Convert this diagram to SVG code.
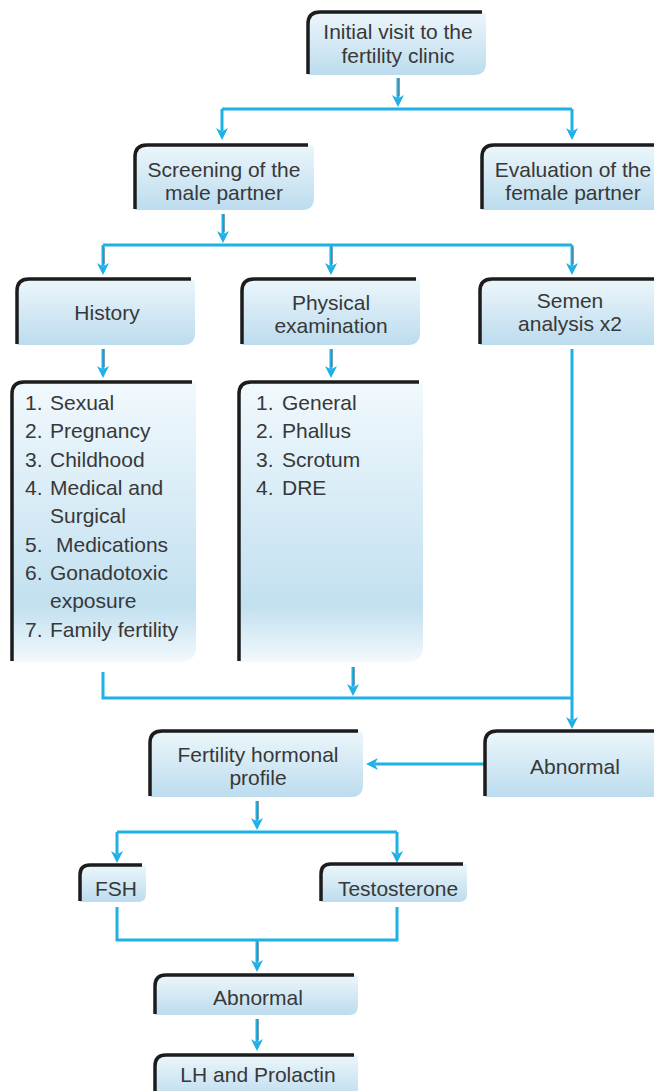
<svg xmlns="http://www.w3.org/2000/svg" width="654" height="1091" viewBox="0 0 654 1091">
<defs>
<linearGradient id="gNode" x1="0" y1="0" x2="0" y2="1">
<stop offset="0" stop-color="#ecf6fb"/>
<stop offset="1" stop-color="#bcdcee"/>
</linearGradient>
<linearGradient id="gList" x1="0" y1="0" x2="0" y2="1">
<stop offset="0" stop-color="#f1f9fd"/>
<stop offset="0.8" stop-color="#c2e0f0"/>
<stop offset="1" stop-color="#f2f9fc"/>
</linearGradient>
<marker id="ah" markerUnits="userSpaceOnUse" markerWidth="12" markerHeight="12" viewBox="0 0 12 12" refX="3" refY="6" orient="auto">
<path d="M0,0 L12,6 L0,12 L3.5,6 Z" fill="#1eb0e6"/>
</marker>
<style>
.fill{fill:url(#gNode);}
.lfill{fill:url(#gList);}
.edge{fill:none;stroke:#1c1c1c;stroke-width:3.5;}
.t{font-family:"Liberation Sans",Arial,sans-serif;font-size:21px;fill:#383838;text-anchor:middle;}
.l{font-family:"Liberation Sans",Arial,sans-serif;font-size:21px;fill:#383838;}
.c{fill:none;stroke:#1eb0e6;stroke-width:3;}
.a{fill:none;stroke:#1eb0e6;stroke-width:3;marker-end:url(#ah);}
.core{fill:none;stroke:#6a6a6a;stroke-width:1;}
</style>
</defs>
<rect width="654" height="1091" fill="#ffffff"/>

<g id="connectors">
<line class="a" x1="398" y1="78" x2="398" y2="98"/>
<path class="c" d="M222,109 H572"/>
<line class="a" x1="222" y1="109" x2="222" y2="131"/>
<line class="a" x1="572" y1="109" x2="572" y2="131"/>
<line class="a" x1="223" y1="214" x2="223" y2="234"/>
<path class="c" d="M103,245 H572"/>
<line class="a" x1="103" y1="245" x2="103" y2="266"/>
<line class="a" x1="331" y1="245" x2="331" y2="266"/>
<line class="a" x1="572" y1="245" x2="572" y2="266"/>
<line class="a" x1="103" y1="349" x2="103" y2="369"/>
<line class="a" x1="331" y1="349" x2="331" y2="369"/>
<line class="a" x1="572" y1="349" x2="572" y2="720"/>
<path class="c" d="M103,672 V698 H572"/>
<line class="a" x1="353" y1="667" x2="353" y2="687"/>
<line class="a" x1="485" y1="764" x2="375" y2="764"/>
<line class="a" x1="257" y1="801" x2="257" y2="821"/>
<path class="c" d="M117,832 H397"/>
<line class="a" x1="117" y1="832" x2="117" y2="854"/>
<line class="a" x1="397" y1="832" x2="397" y2="854"/>
<path class="c" d="M117,907 V940 H397 V907"/>
<line class="a" x1="257" y1="940" x2="257" y2="963"/>
<line class="a" x1="257" y1="1019" x2="257" y2="1042"/>
<line class="core" x1="399" y1="78" x2="399" y2="96"/>
<line class="core" x1="224" y1="214" x2="224" y2="232"/>
<line class="core" x1="104" y1="247" x2="104" y2="264"/>
<line class="core" x1="332" y1="247" x2="332" y2="264"/>
<line class="core" x1="573" y1="247" x2="573" y2="264"/>
<line class="core" x1="104" y1="349" x2="104" y2="367"/>
<line class="core" x1="332" y1="349" x2="332" y2="367"/>
<line class="core" x1="354" y1="667" x2="354" y2="685"/>
<line class="core" x1="258" y1="801" x2="258" y2="819"/>
<line class="core" x1="258" y1="942" x2="258" y2="961"/>
<line class="core" x1="258" y1="1019" x2="258" y2="1040"/>
</g>

<g id="initial-visit">
<path class="fill" d="M308,24 Q308,12 320,12 H482 Q486,12 486,16 V63 Q486,75 474,75 H308 Z"/>
<path class="edge" d="M308,74 V24 Q308,12 320,12 H482"/>
<text class="t" x="398" y="39">Initial visit to the</text>
<text class="t" x="398" y="63">fertility clinic</text>
</g>

<g id="screening-male">
<path class="fill" d="M135,157 Q135,145 147,145 H310 Q314,145 314,149 V198 Q314,210 302,210 H135 Z"/>
<path class="edge" d="M135,209 V157 Q135,145 147,145 H308"/>
<text class="t" x="224" y="177">Screening of the</text>
<text class="t" x="224" y="200">male partner</text>
</g>

<g id="evaluation-female">
<path class="fill" d="M482,157 Q482,145 494,145 H660 V210 H482 Z"/>
<path class="edge" d="M482,209 V157 Q482,145 494,145 H660"/>
<text class="t" x="573" y="177">Evaluation of the</text>
<text class="t" x="573" y="200">female partner</text>
</g>

<g id="history">
<path class="fill" d="M17,291 Q17,279 29,279 H191 Q195,279 195,283 V333 Q195,345 183,345 H17 Z"/>
<path class="edge" d="M17,344 V291 Q17,279 29,279 H191"/>
<text class="t" x="107" y="320">History</text>
</g>

<g id="physical-examination">
<path class="fill" d="M242,291 Q242,279 254,279 H416 Q420,279 420,283 V333 Q420,345 408,345 H242 Z"/>
<path class="edge" d="M242,344 V291 Q242,279 254,279 H416"/>
<text class="t" x="331" y="310">Physical</text>
<text class="t" x="331" y="333">examination</text>
</g>

<g id="semen-analysis">
<path class="fill" d="M480,291 Q480,279 492,279 H660 V345 H480 Z"/>
<path class="edge" d="M480,344 V291 Q480,279 492,279 H660"/>
<text class="t" x="570" y="308">Semen</text>
<text class="t" x="570" y="331">analysis x2</text>
</g>

<g id="history-list">
<path class="lfill" d="M12,394 Q12,382 24,382 H192 Q196,382 196,386 V646 Q196,662 180,662 H12 Z"/>
<path class="edge" d="M12,661 V394 Q12,382 24,382 H192"/>
<text class="l" x="25" y="410">1.</text><text class="l" x="50" y="410">Sexual</text>
<text class="l" x="25" y="438">2.</text><text class="l" x="50" y="438">Pregnancy</text>
<text class="l" x="25" y="467">3.</text><text class="l" x="50" y="467">Childhood</text>
<text class="l" x="25" y="495">4.</text><text class="l" x="50" y="495">Medical and</text>
<text class="l" x="50" y="523">Surgical</text>
<text class="l" x="25" y="552">5.</text><text class="l" x="56" y="552">Medications</text>
<text class="l" x="25" y="580">6.</text><text class="l" x="50" y="580">Gonadotoxic</text>
<text class="l" x="50" y="608">exposure</text>
<text class="l" x="25" y="637">7.</text><text class="l" x="50" y="637">Family fertility</text>
</g>

<g id="physical-list">
<path class="lfill" d="M239,394 Q239,382 251,382 H419 Q423,382 423,386 V646 Q423,662 407,662 H239 Z"/>
<path class="edge" d="M239,661 V394 Q239,382 251,382 H419"/>
<text class="l" x="256" y="410">1.</text><text class="l" x="282" y="410">General</text>
<text class="l" x="256" y="438">2.</text><text class="l" x="282" y="438">Phallus</text>
<text class="l" x="256" y="467">3.</text><text class="l" x="282" y="467">Scrotum</text>
<text class="l" x="256" y="495">4.</text><text class="l" x="282" y="495">DRE</text>
</g>

<g id="abnormal-semen">
<path class="fill" d="M485,743 Q485,731 497,731 H660 V797 H485 Z"/>
<path class="edge" d="M485,796 V743 Q485,731 497,731 H660"/>
<text class="t" x="575" y="774">Abnormal</text>
</g>

<g id="hormonal-profile">
<path class="fill" d="M150,743 Q150,731 162,731 H359 Q363,731 363,735 V785 Q363,797 351,797 H150 Z"/>
<path class="edge" d="M150,796 V743 Q150,731 162,731 H358"/>
<text class="t" x="258" y="762">Fertility hormonal</text>
<text class="t" x="258" y="785">profile</text>
</g>

<g id="fsh">
<path class="fill" d="M80,875 Q80,865 90,865 H143 Q146,865 146,868 V894 Q146,902 138,902 H80 Z"/>
<path class="edge" d="M80,901 V875 Q80,865 90,865 H142"/>
<text class="t" x="116" y="896">FSH</text>
</g>

<g id="testosterone">
<path class="fill" d="M321,874 Q321,864 331,864 H464 Q467,864 467,867 V894 Q467,902 459,902 H321 Z"/>
<path class="edge" d="M321,901 V874 Q321,864 331,864 H463"/>
<text class="t" x="398" y="896">Testosterone</text>
</g>

<g id="abnormal-hormones">
<path class="fill" d="M155,986 Q155,975 166,975 H355 Q358,975 358,978 V1006 Q358,1015 349,1015 H155 Z"/>
<path class="edge" d="M155,1014 V986 Q155,975 166,975 H354"/>
<text class="t" x="258" y="1005">Abnormal</text>
</g>

<g id="lh-prolactin">
<path class="fill" d="M155,1066 Q155,1055 166,1055 H355 Q358,1055 358,1058 V1100 H155 Z"/>
<path class="edge" d="M155,1100 V1066 Q155,1055 166,1055 H354"/>
<text class="t" x="258" y="1082">LH and Prolactin</text>
</g>
</svg>
